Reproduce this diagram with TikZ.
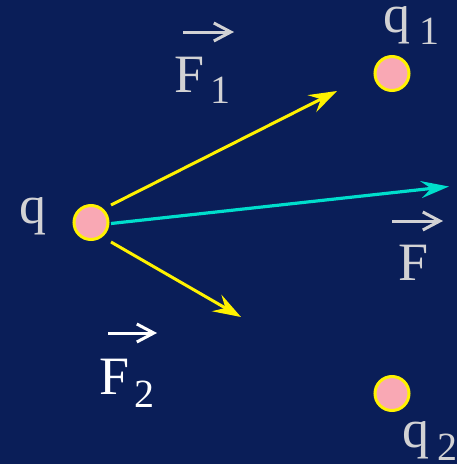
\documentclass[tikz,border=0pt]{standalone}
\usepackage{fontspec}
\setmainfont{Liberation Serif}
\usetikzlibrary{arrows.meta}
\definecolor{navy}{RGB}{10,30,88}
\definecolor{pinkfill}{RGB}{249,168,180}
\definecolor{lgrey}{RGB}{210,210,212}
\definecolor{turq}{RGB}{0,222,204}
\tikzset{
  charge/.style={circle, draw=yellow, fill=pinkfill, line width=3pt, minimum size=34pt, inner sep=0pt},
  big/.style={inner sep=0pt, anchor=base west, font=\fontsize{54}{54}\selectfont, text=lgrey},
  sub/.style={inner sep=0pt, anchor=base west, font=\fontsize{40}{40}\selectfont, text=lgrey},
  force/.style={yellow, line width=3pt, -{Stealth[length=28pt, width=19pt, inset=10pt]}},
  net/.style={turq, line width=3.2pt, -{Stealth[length=28pt, width=17pt, inset=10pt]}},
  vecarrow/.style={lgrey, line width=3pt, -{Straight Barb[length=17pt, width=18pt, line width=3pt]}}
}
\begin{document}
\begin{tikzpicture}[x=1pt, y=-1pt]
\fill[navy] (0,0) rectangle (457,464);
\useasboundingbox (0,0) rectangle (457,464);

% charges
\node[charge] (q)  at (91,222.5) {};
\node[charge] (q1) at (392,73.5) {};
\node[charge] (q2) at (392,393.5) {};

% charge labels
\node[big] (lq) at (19,223) {q};
\node[big] (lq1) at (383,32) {q};
\node[sub] (lq1s) at (419.5,44) {1};
\node[big] (lq2) at (402,447) {q};
\node[sub] (lq2s) at (437,460) {2};

% force labels
\node[big] (lF1) at (174,92) {F};
\node[sub] (lF1s) at (210.5,103) {1};
\node[big] (lF) at (398.5,280) {F};
\node[big, text=white] (lF2) at (99.5,394) {F};
\node[sub, text=white] (lF2s) at (134,407) {2};

% vector arrows over labels
\coordinate (v1a) at (183,32);  \coordinate (v1b) at (234,32);
\coordinate (vFa) at (392,221); \coordinate (vFb) at (443,221);
\coordinate (v2a) at (108,333); \coordinate (v2b) at (157,333);
\draw[vecarrow] (v1a) -- (v1b);
\draw[vecarrow] (vFa) -- (vFb);
\draw[vecarrow, white] (v2a) -- (v2b);

% force arrows
\coordinate (s1) at (111,205); \coordinate (t1) at (337,91);
\coordinate (s2) at (111,242); \coordinate (t2) at (241,317);
\coordinate (s3) at (111,223.5); \coordinate (t3) at (449,186.5);
\draw[force] (s1) -- (t1);
\draw[force] (s2) -- (t2);
\draw[net] (s3) -- (t3);
\end{tikzpicture}
\end{document}
